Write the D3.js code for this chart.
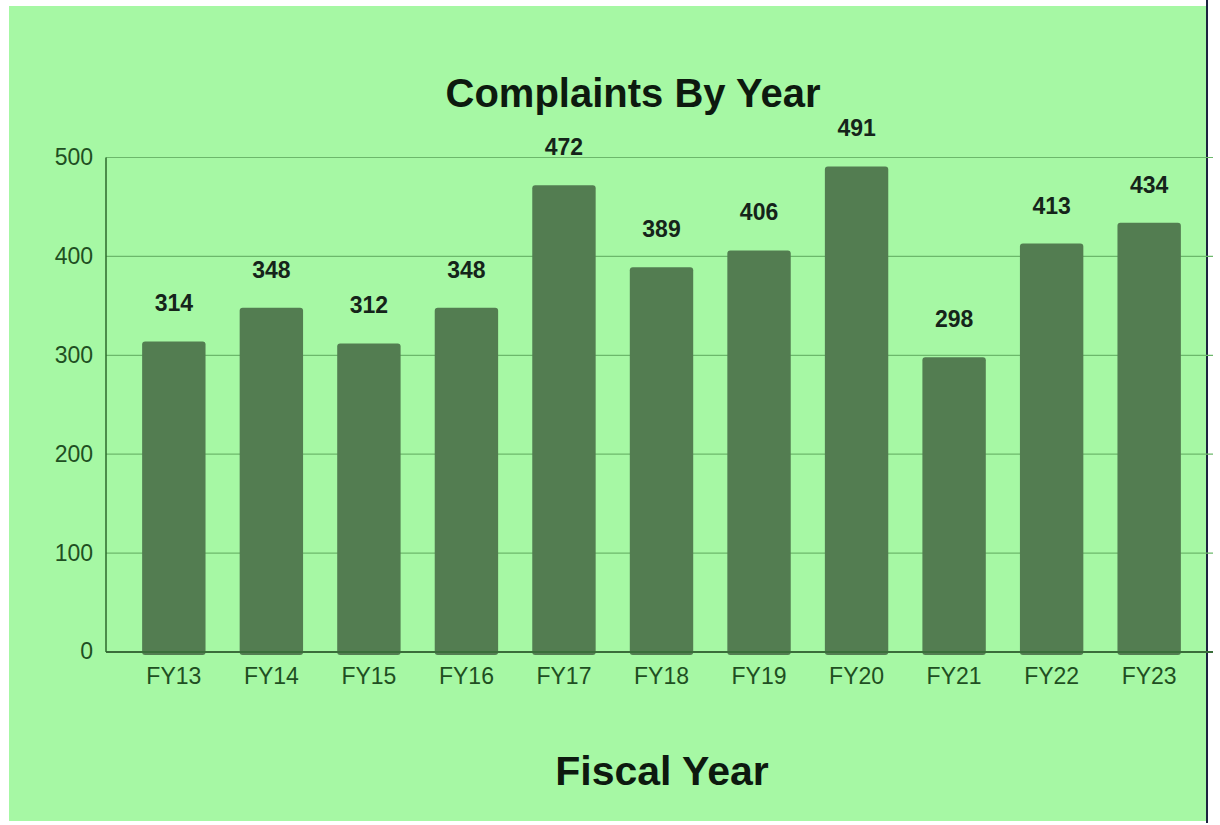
<!DOCTYPE html>
<html>
<head>
<meta charset="utf-8">
<script src="https://cdn.jsdelivr.net/npm/d3@7"></script>
<style>
  html, body { margin: 0; padding: 0; background: #ffffff; }
  svg { display: block; }
  text { font-family: "Liberation Sans", Arial, sans-serif; }
</style>
</head>
<body>
<svg id="chart" width="1220" height="825"></svg>
<script>
// Complaints per fiscal year
const years = ["FY13", "FY14", "FY15", "FY16", "FY17", "FY18", "FY19", "FY20", "FY21", "FY22", "FY23"];
const complaints = [314, 348, 312, 348, 472, 389, 406, 491, 298, 413, 434];
const yTicks = [0, 100, 200, 300, 400, 500];

const chartTitle = "Complaints By Year";
const xTitle = "Fiscal Year";

const svg = d3.select("#chart");

// panel background and right border line
svg.append("rect")
  .attr("x", 9).attr("y", 6)
  .attr("width", 1198).attr("height", 815)
  .attr("fill", "#a6f8a4");
svg.append("line")
  .attr("x1", 1207).attr("x2", 1207)
  .attr("y1", 0).attr("y2", 823)
  .attr("stroke", "#1c2340").attr("stroke-width", 2);

const plot = { left: 106, right: 1213, top: 157.5, bottom: 652 };

const x = d3.scaleBand()
  .domain(years)
  .range([108, 1215])
  .paddingInner(0.35)
  .paddingOuter(0.35);

const y = d3.scaleLinear()
  .domain([0, 500])
  .range([plot.bottom, plot.top]);

// horizontal gridlines
svg.append("g")
  .selectAll("line")
  .data(yTicks.filter(d => d > 0))
  .join("line")
  .attr("x1", plot.left).attr("x2", plot.right)
  .attr("y1", d => y(d)).attr("y2", d => y(d))
  .attr("stroke", "#6cb86b").attr("stroke-width", 1.2);

// y axis tick labels
const yAxis = d3.axisLeft(y).tickValues(yTicks).tickSize(0).tickPadding(13);
svg.append("g")
  .attr("transform", `translate(${plot.left},0)`)
  .call(yAxis)
  .call(g => g.select(".domain").remove())
  .call(g => g.selectAll("text")
    .attr("font-size", 23)
    .attr("font-family", "Liberation Sans, Arial, sans-serif")
    .attr("fill", "#1f4f22")
    .attr("dy", "0.3em"));

// bars
svg.append("g")
  .selectAll("rect")
  .data(years)
  .join("rect")
  .attr("x", d => x(d))
  .attr("y", (d, i) => y(complaints[i]))
  .attr("width", x.bandwidth())
  .attr("height", (d, i) => y(0) - y(complaints[i]) + 3)
  .attr("rx", 3)
  .attr("fill", "#537d51");

// value labels
svg.append("g")
  .selectAll("text")
  .data(years)
  .join("text")
  .attr("x", d => x(d) + x.bandwidth() / 2)
  .attr("y", (d, i) => y(complaints[i]) - 30)
  .attr("text-anchor", "middle")
  .attr("font-size", 23)
  .attr("font-weight", "bold")
  .attr("fill", "#15241a")
  .text((d, i) => complaints[i]);

// axis lines
svg.append("line")
  .attr("x1", plot.left).attr("x2", plot.right)
  .attr("y1", plot.bottom).attr("y2", plot.bottom)
  .attr("stroke", "#3a6d3a").attr("stroke-width", 2);
svg.append("line")
  .attr("x1", plot.left).attr("x2", plot.left)
  .attr("y1", plot.top).attr("y2", plot.bottom)
  .attr("stroke", "#2c6a2c").attr("stroke-width", 1.5);

// x axis category labels
const xAxis = d3.axisBottom(x).tickSize(0).tickPadding(16);
svg.append("g")
  .attr("transform", `translate(0,${plot.bottom})`)
  .call(xAxis)
  .call(g => g.select(".domain").remove())
  .call(g => g.selectAll("text")
    .attr("font-size", 23)
    .attr("font-family", "Liberation Sans, Arial, sans-serif")
    .attr("fill", "#1f4f22"));

// titles
svg.append("text")
  .attr("x", 633).attr("y", 107)
  .attr("text-anchor", "middle")
  .attr("font-size", 40)
  .attr("font-weight", "bold")
  .attr("fill", "#0d1a0f")
  .text(chartTitle);

svg.append("text")
  .attr("x", 662).attr("y", 785)
  .attr("text-anchor", "middle")
  .attr("font-size", 41)
  .attr("font-weight", "bold")
  .attr("fill", "#0d1a0f")
  .text(xTitle);
</script>
</body>
</html>
